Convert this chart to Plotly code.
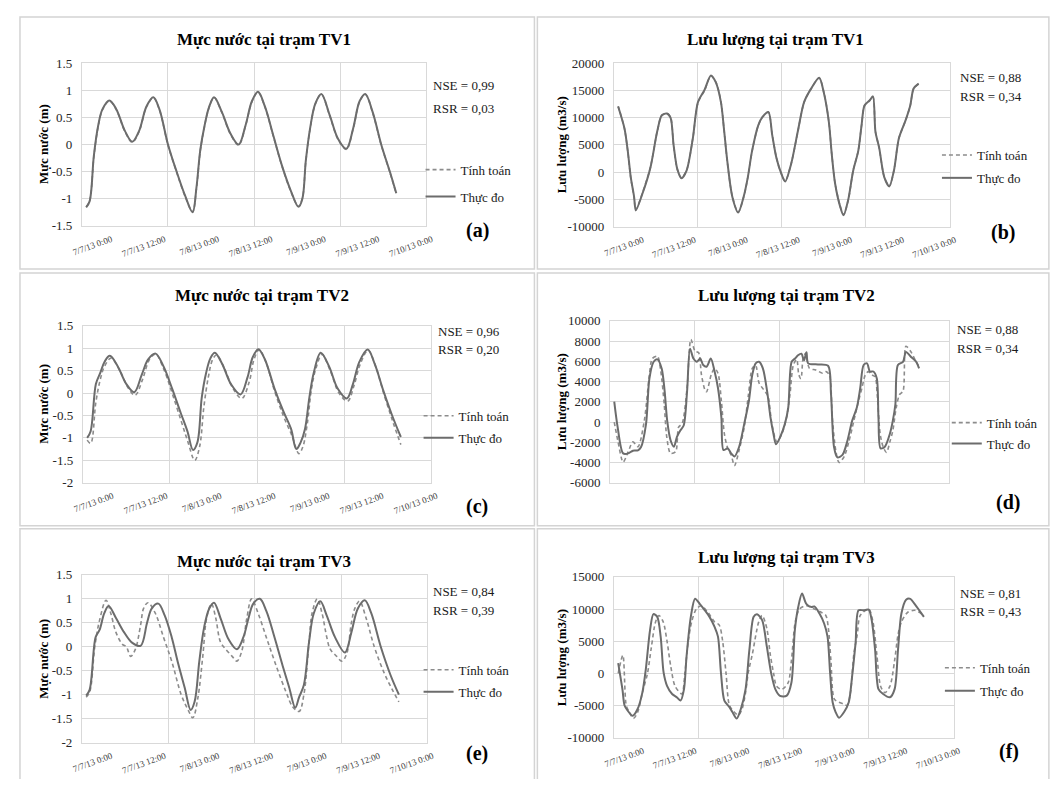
import plotly.graph_objects as go

# page has an 8px body margin, so the figure is sized to fit inside the 1058x787 window
PAGE_W, PAGE_H, OFF = 1058, 787, 8
FIG_W, FIG_H = PAGE_W - 2 * OFF, PAGE_H - 2 * OFF
FONT = "Liberation Serif, Times New Roman, serif"

# ---------------- shared axis data ----------------
X_TICK_TEXT = ["7/7/13 0:00", "7/7/13 12:00", "7/8/13 0:00", "7/8/13 12:00",
               "7/9/13 0:00", "7/9/13 12:00", "7/10/13 0:00"]
X_TICK_HOURS = [4.0, 16.4, 28.8, 41.2, 53.6, 66.0, 78.4]
X_RANGE = [-1, 79]
LEGEND_NAMES = ["Tính toán", "Thực đo"]

TITLES = ["Mực nước tại trạm TV1", "Lưu lượng tại trạm TV1",
          "Mực nước tại trạm TV2", "Lưu lượng tại trạm TV2",
          "Mực nước tại trạm TV3", "Lưu lượng tại trạm TV3"]
Y_TITLES = ["Mực nước (m)", "Lưu lượng (m3/s)"] * 3
NSE = ["0,99", "0,88", "0,96", "0,88", "0,84", "0,81"]
RSR = ["0,03", "0,34", "0,20", "0,34", "0,39", "0,43"]
LETTERS = ["(a)", "(b)", "(c)", "(d)", "(e)", "(f)"]

Y_TICKS_A = [-1.5, -1, -0.5, 0, 0.5, 1, 1.5]
Y_TICKS_B = [-10000, -5000, 0, 5000, 10000, 15000, 20000]
Y_TICKS_C = [-2, -1.5, -1, -0.5, 0, 0.5, 1, 1.5]
Y_TICKS_D = [-6000, -4000, -2000, 0, 2000, 4000, 6000, 8000, 10000]
Y_TICKS_E = [-2, -1.5, -1, -0.5, 0, 0.5, 1, 1.5]
Y_TICKS_F = [-10000, -5000, 0, 5000, 10000, 15000]

# ---------------- (a) TV1 water level ----------------
A_T = [0, 0.8, 1.8, 2.8, 3.8, 5.4, 7, 9, 10.7, 12.3, 14, 15.6, 17, 19, 21, 23, 24.7, 25.6, 26.5, 27.5,
       28.5, 29.7, 31.5, 33.5, 35.4, 37, 38.5, 39.9, 41.5, 43.5, 45.5, 47.5, 49.3, 50.2, 51, 52, 53.2,
       54.6, 56.5, 58.5, 60.4, 62, 63.5, 64.8, 66.5, 68.5, 70.5, 72]
A_OBS = [-1.16, -1.05, -0.2, 0.35, 0.65, 0.81, 0.65, 0.25, 0.05, 0.25, 0.7, 0.87, 0.65, 0.0, -0.5, -0.95,
         -1.25, -0.8, -0.1, 0.35, 0.68, 0.87, 0.6, 0.2, 0.0, 0.35, 0.8, 0.97, 0.7, 0.15, -0.4, -0.85,
         -1.15, -1.0, -0.3, 0.3, 0.75, 0.93, 0.55, 0.1, -0.08, 0.3, 0.8, 0.93, 0.6, 0.0, -0.5, -0.9]
A_SIM = [-1.15, -1.04, -0.22, 0.33, 0.64, 0.8, 0.64, 0.24, 0.04, 0.24, 0.69, 0.86, 0.64, -0.01, -0.51, -0.96,
         -1.24, -0.82, -0.12, 0.34, 0.67, 0.86, 0.59, 0.19, -0.01, 0.34, 0.79, 0.96, 0.69, 0.14, -0.41, -0.86,
         -1.14, -0.99, -0.31, 0.29, 0.74, 0.92, 0.54, 0.09, -0.09, 0.29, 0.79, 0.92, 0.59, -0.01, -0.51, -0.91]

# ---------------- (b) TV1 discharge ----------------
B_T = [0, 1.5, 2.3, 3, 3.8, 4.2, 5.8, 7.7, 9.3, 10.4, 11.6, 12.5, 13.2, 14.1, 15.1, 16.3, 17.8, 19, 20.6,
       22.1, 23.3, 24.5, 25.2, 26, 27.2, 28.6, 29.9, 30.9, 31.9, 33.4, 34.4, 35.8, 36.7, 37.7, 38.9, 39.8,
       41.2, 42.8, 44.3, 45.9, 47.9, 49, 50.2, 50.9, 51.7, 52.9, 53.7, 54.8, 56, 57.2, 58, 58.7, 59.9,
       60.7, 61.3, 62.2, 63.4, 64.6, 65.7, 66.9, 68.5, 69.6, 70.4, 71.6]
B_OBS = [12050, 8050, 3860, -900, -4500, -7000, -3900, 880, 7450, 10440, 10740, 9960, 5060, 570, -1100,
         300, 6250, 12800, 15100, 17700, 16400, 12800, 8050, 2070, -4500, -7380, -4500, -900, 3860, 8640,
         10140, 11030, 6850, 2670, -320, -1700, 1470, 7450, 12830, 15220, 17300, 14600, 9240, 3260, -2120,
         -6300, -7900, -5100, 270, 3860, 8640, 12230, 13130, 13900, 7450, 4460, -900, -2600, 270, 6250,
         9540, 12230, 15340, 16230]
B_SIM = [12100, 8000, 3800, -1000, -4600, -6900, -3800, 950, 7400, 10400, 10800, 10000, 5000, 500, -1050,
         350, 6200, 12700, 15000, 17650, 16500, 12900, 8000, 2000, -4400, -7300, -4600, -950, 3800, 8600,
         10100, 11000, 6900, 2700, -300, -1650, 1500, 7400, 12800, 15200, 17250, 14700, 9300, 3300, -2100,
         -6200, -7800, -5200, 300, 3900, 8600, 12200, 13100, 13850, 7500, 4400, -850, -2550, 300, 6200,
         9500, 12200, 15300, 16200]

# ---------------- (c) TV2 water level ----------------
C_OBS_T = [0, 0.8, 2, 3, 4, 5.2, 7, 9, 10.8, 12.5, 14, 15.7, 17.5, 19.5, 21.5, 23, 24.3, 25.3, 26.3, 27.3,
           28.3, 29.3, 31, 33, 35.2, 36.8, 38, 39.3, 40.8, 43, 45, 46.8, 48, 49, 50, 51, 52, 53.6, 55.5,
           57.5, 59.6, 61, 62.5, 64.4, 66, 68, 70, 72]
C_OBS = [-1.0, -0.85, 0.2, 0.45, 0.7, 0.83, 0.6, 0.2, 0.02, 0.4, 0.75, 0.88, 0.6, 0.1, -0.45, -0.85, -1.27,
         -1.1, -0.1, 0.45, 0.78, 0.9, 0.65, 0.2, -0.03, 0.35, 0.8, 0.98, 0.75, 0.1, -0.4, -0.8, -1.25, -1.1,
         -0.8, -0.1, 0.45, 0.9, 0.6, 0.1, -0.12, 0.2, 0.7, 0.97, 0.65, 0.05, -0.5, -0.98]
C_SIM_T = [0, 0.8, 2, 3, 4, 5.5, 7.5, 9.5, 11, 12.7, 14.3, 15.7, 17.5, 19.5, 21.5, 23, 24.7, 25.8, 26.8,
           27.8, 28.8, 29.7, 31.5, 33.5, 35.5, 37.2, 38.3, 39.5, 41, 43, 45, 47, 48.6, 49.5, 50.5, 51.5,
           52.5, 53.9, 55.8, 57.8, 59.8, 61.2, 62.7, 64.5, 66.2, 68.2, 70.2, 72]
C_SIM = [-1.05, -1.12, -0.2, 0.3, 0.6, 0.78, 0.5, 0.1, -0.05, 0.3, 0.75, 0.87, 0.55, 0.0, -0.6, -1.05,
         -1.5, -1.2, -0.3, 0.35, 0.75, 0.85, 0.55, 0.1, -0.12, 0.25, 0.75, 0.97, 0.7, 0.05, -0.5, -0.95,
         -1.35, -1.2, -0.7, 0.1, 0.55, 0.86, 0.5, 0.0, -0.18, 0.15, 0.65, 0.95, 0.6, -0.05, -0.65, -1.15]

# ---------------- (d) TV2 discharge ----------------
D_OBS_T = [0, 0.8, 2.1, 3.3, 4.4, 5.6, 6.3, 7.5, 8.3, 9.3, 10.2, 11.2, 11.9, 12.5, 13.3, 14.1, 14.8, 15.6,
           16.4, 17.2, 17.9, 18.7, 19.5, 20.3, 21, 21.8, 22.8, 23.7, 24.5, 25.3, 25.8, 26.8, 27.6, 28.4,
           29.5, 30.7, 31.8, 32.6, 33.4, 34.2, 35.1, 36.1, 36.9, 37.6, 38.2, 39.2, 40.3, 41.1, 41.9, 42.7,
           43.4, 44.2, 44.8, 45.4, 45.8, 48.1, 50.5, 51.2, 51.9, 52.7, 53.9, 55, 56.2, 57.3, 58.1, 58.9,
           59.7, 60.4, 61.2, 62, 62.4, 62.9, 63.9, 65.1, 65.8, 66.4, 67, 68.2, 68.9, 70.1, 71.3, 72]
D_OBS = [2020, -500, -3100, -3100, -2830, -2800, -2500, -200, 4300, 5960, 6200, 5300, 3050, 140, -1800,
         -2440, -1470, -830, -340, 3050, 7250, 6280, 5960, 6280, 5640, 5470, 6280, 5000, 3370, 460, -2770,
         -2600, -3100, -3400, -2440, -180, 2080, 4670, 5800, 5960, 5310, 3050, 460, -1150, -2200, -1470,
         -180, 1440, 5960, 6280, 6600, 6760, 6100, 6900, 5800, 5700, 5570, 2730, -2440, -3500, -3250,
         -1960, 140, 1440, 3370, 5640, 5800, 4990, 5000, 4340, 460, -2600, -2440, -1150, 140, 1760, 5640,
         5960, 6930, 6440, 5960, 5300]
D_SIM_T = [0, 0.9, 2.1, 3.3, 4.4, 5.6, 7.1, 8.3, 9, 10.2, 11, 11.8, 12.4, 13.3, 14.5, 15.2, 16, 17.2, 18.1,
           19.1, 19.9, 20.6, 21.4, 21.8, 22.9, 23.7, 24.5, 25.3, 26, 26.8, 27.6, 28.4, 29.5, 30.7, 31.7,
           32.6, 33.4, 34.2, 35.3, 36.3, 37.1, 37.9, 38.4, 39.6, 40.7, 41.5, 42.3, 43.1, 43.6, 44.1, 44.6,
           45.2, 46.1, 47.6, 49.2, 50, 50.8, 51.5, 52.3, 53.1, 54.3, 55.4, 56.6, 57.7, 58.5, 59.3, 60, 60.8,
           61.6, 62.1, 62.8, 63.5, 64.3, 65.1, 65.8, 66.6, 67.4, 68.2, 68.9, 70.1, 71.3, 72]
D_SIM = [0, -1960, -3960, -2930, -1960, -2440, 140, 4670, 6280, 6500, 4990, 1760, -1470, -3100, -2930,
         -500, -180, 3370, 8160, 7000, 6870, 4670, 3200, 2990, 4670, 5310, 4830, 2080, -1150, -2600, -3250,
         -4300, -2770, -500, 2730, 5310, 5600, 3860, 3200, 2560, 140, -1470, -1960, -1150, 460, 2730, 5640,
         6200, 4670, 4300, 6280, 6800, 5310, 5150, 4830, 4990, 4670, 460, -2770, -4000, -3410, -1960, 140,
         2080, 3370, 4670, 4990, 4670, 4500, 2730, -1150, -2440, -3000, -1960, -830, 1440, 2730, 3050,
         7500, 6930, 5960, 5470]

# ---------------- (e) TV3 water level ----------------
E_OBS_T = [0, 0.8, 2.2, 3.1, 4.2, 5.2, 6.9, 8.8, 10.7, 12.6, 14.1, 15.2, 16.7, 18.2, 19.8, 21.3, 22.8, 24.2,
           25.1, 26.2, 27.3, 28.5, 29.6, 31.1, 33, 34.9, 36.4, 37.6, 38.7, 40.2, 41.7, 43.6, 45.5, 47, 48.4,
           49.3, 50.4, 51.6, 52.7, 54.2, 55.7, 57.6, 59.9, 61.4, 62.9, 64.5, 66, 68.2, 70.5, 72.4]
E_OBS = [-1.02, -0.9, 0.2, 0.35, 0.7, 0.85, 0.6, 0.3, 0.08, 0.02, 0.5, 0.8, 0.9, 0.65, 0.2, -0.35, -0.85,
         -1.32, -1.15, -0.3, 0.4, 0.8, 0.92, 0.6, 0.15, -0.05, 0.2, 0.6, 0.9, 1.0, 0.75, 0.2, -0.4, -0.85,
         -1.27, -1.05, -0.8, 0.1, 0.7, 0.95, 0.65, 0.2, -0.12, 0.3, 0.8, 0.97, 0.7, 0.0, -0.6, -1.0]
E_SIM_T = [0, 0.8, 2, 3.1, 4.6, 5.7, 6.9, 8.4, 9.3, 10.3, 11.4, 12.6, 13.3, 14.3, 16, 17.9, 19.8, 22, 23.5,
           24.7, 25.8, 27, 27.9, 29, 30, 31.1, 32.3, 33.8, 34.9, 36, 37.2, 38.3, 39.8, 41.7, 44, 46.3, 47.8,
           49.3, 50.4, 51.6, 52.3, 53.5, 54.6, 55.7, 56.5, 58, 59.2, 60.3, 61.4, 62.2, 63.3, 64.8, 66.7, 69,
           70.9, 72.4]
E_SIM = [-1.05, -0.95, 0.0, 0.55, 0.97, 0.7, 0.3, 0.05, 0.0, -0.2, -0.05, 0.45, 0.8, 0.92, 0.7, 0.2, -0.3,
         -1.0, -1.3, -1.48, -1.1, -0.2, 0.6, 0.9, 0.6, 0.1, -0.05, -0.2, -0.3, -0.1, 0.6, 1.0, 0.7, 0.2,
         -0.4, -0.95, -1.25, -1.35, -1.0, 0.1, 0.7, 1.0, 0.7, 0.2, -0.05, -0.2, -0.3, -0.15, 0.5, 0.8, 0.95,
         0.6, 0.0, -0.55, -0.9, -1.15]

# ---------------- (f) TV3 discharge ----------------
F_OBS_T = [0, 1, 1.5, 2.2, 3.4, 4.6, 5.7, 6.5, 7.5, 8.3, 9.2, 10, 10.7, 11.5, 12.7, 13.8, 14.7, 15.5, 16.1,
           17.1, 18.1, 19.2, 20.4, 21.5, 22.7, 23.5, 24.2, 25, 26.2, 26.9, 27.9, 28.9, 30, 30.9, 31.9, 32.7,
           33.9, 35, 36, 37, 38.1, 39.7, 40.8, 41.6, 42.4, 43.3, 44.3, 45.5, 46.2, 47.4, 48.5, 49.3, 49.9,
           50.5, 51.2, 52, 53.2, 54.3, 55.1, 55.9, 56.6, 57.8, 59, 59.7, 60.5, 61.3, 62.4, 64, 65.1, 65.9,
           66.7, 67.8, 68.8, 69.8, 70.9, 72]
F_OBS = [1600, -2500, -5000, -5770, -6600, -5510, -2960, 610, 6730, 9200, 8780, 5710, 100, -1940, -3210,
         -3720, -4230, -2450, 2650, 8780, 11600, 10800, 9800, 8780, 7240, 5710, 100, -4230, -5260, -6020,
         -7040, -5510, -2450, 3670, 8780, 9200, 8270, 4180, 100, -2450, -3500, -3470, -1430, 6730, 10310,
         12400, 10800, 10310, 10400, 9290, 7750, 5710, 100, -4490, -6020, -6900, -6020, -4490, -410, 4690,
         9800, 9800, 9900, 8270, 3670, -2450, -3210, -3720, -2450, 3670, 9290, 11430, 11580, 10800, 9800,
         8780]
F_SIM_T = [0, 1.1, 1.9, 2.6, 3.6, 4.6, 5.7, 6.9, 7.8, 8.8, 9.6, 10.6, 11.5, 12.4, 13.4, 15, 15.7, 16.5,
           17.3, 18.4, 19.6, 21.1, 22.7, 23.8, 24.6, 25.4, 26.2, 27.3, 28.3, 29.2, 30, 30.6, 31.6, 33.1,
           33.9, 35, 35.8, 36.6, 37.3, 38.5, 40, 40.8, 41.7, 42.7, 44.3, 46.2, 47.8, 48.9, 49.5, 50.1, 50.9,
           52, 53.2, 53.9, 54.7, 55.5, 56.3, 57, 59, 60, 60.9, 61.8, 62.8, 64, 65.1, 65.9, 66.7, 68.2, 69.8,
           70.9, 72]
F_SIM = [0, 2800, -5000, -6000, -7000, -6000, -3000, 0, 4000, 8000, 9000, 8000, 5000, 1000, -2000, -3200,
         0, 5000, 8000, 10000, 10500, 9500, 8000, 7500, 5000, 0, -5000, -6000, -6500, -5500, -3000, 0, 3000,
         8000, 9000, 7000, 3000, 0, -2000, -2500, -1500, 2000, 8000, 10000, 10500, 10000, 9500, 9000, 7000,
         2000, -4000, -4500, -4800, -5000, -3000, 3000, 6000, 9000, 10000, 8000, 3000, -2000, -3000, -2000,
         2000, 6000, 8000, 9500, 9800, 9500, 9000]

SERIES = [
    ((A_T, A_SIM), (A_T, A_OBS), Y_TICKS_A),
    ((B_T, B_SIM), (B_T, B_OBS), Y_TICKS_B),
    ((C_SIM_T, C_SIM), (C_OBS_T, C_OBS), Y_TICKS_C),
    ((D_SIM_T, D_SIM), (D_OBS_T, D_OBS), Y_TICKS_D),
    ((E_SIM_T, E_SIM), (E_OBS_T, E_OBS), Y_TICKS_E),
    ((F_SIM_T, F_SIM), (F_OBS_T, F_OBS), Y_TICKS_F),
]

# ---------------- layout geometry (page pixels) ----------------
GEOM = [
    dict(plot=(72, 423, 57, 223), box=(9, 533, 10, 267), title=(258, 33), ytitle=(33, 140),
         stats=(428, 80, 103), legend=(417, 179.5, 7), letter=(475, 228), xlabels=True, smooth=1.0),
    dict(plot=(614, 956, 57, 224), box=(536, 1057, 10, 267), title=(779, 33), ytitle=(561, 140),
         stats=(964, 72, 91), legend=(943, 162.5, 3), letter=(1010, 230), xlabels=True, smooth=0.8),
    dict(plot=(73, 428, 325, 485), box=(9, 533, 271, 529), title=(256, 294), ytitle=(33, 405),
         stats=(433, 331, 349), legend=(415, 428, 2), letter=(475, 509), xlabels=True, smooth=1.0),
    dict(plot=(610, 955, 320, 485), box=(536, 1057, 271, 529), title=(790, 294), ytitle=(560, 402),
         stats=(961, 329, 348), legend=(953, 434.5, 1), letter=(1015, 505), xlabels=False, smooth=0.8),
    dict(plot=(72, 424, 579, 750), box=(9, 533, 532, 800), title=(258, 565), ytitle=(33, 665),
         stats=(428, 596, 615), legend=(415, 687, 2), letter=(474, 761), xlabels=True, smooth=1.0),
    dict(plot=(614, 960, 581, 745), box=(536, 1057, 532, 800), title=(790, 561), ytitle=(560, 663),
         stats=(964, 598, 616), legend=(946, 685.5, 3), letter=(1016, 759), xlabels=True, smooth=0.8),
]


def fx(px):
    return (px - OFF) / FIG_W


def fy(py):
    return 1 - (py - OFF) / FIG_H


SIM_STYLE = dict(color="#8c8c8c", width=1.6, dash="4px,3px")
OBS_STYLE = dict(color="#6c6c6c", width=2)
GRID = "#d9d9d9"

fig = go.Figure()
layout = dict(width=FIG_W, height=FIG_H, autosize=False,
              margin=dict(l=0, r=0, t=0, b=0),
              paper_bgcolor="white", plot_bgcolor="white",
              font=dict(family=FONT, color="#000000"),
              showlegend=True)
annotations = []
shapes = []

for i, (sim, obs, yticks) in enumerate(SERIES):
    n = i + 1
    g = GEOM[i]
    xa = "x" if n == 1 else f"x{n}"
    ya = "y" if n == 1 else f"y{n}"
    lg = "legend" if n == 1 else f"legend{n}"
    fig.add_trace(go.Scatter(x=sim[0], y=sim[1], mode="lines", name=LEGEND_NAMES[0],
                             line=dict(shape="spline", smoothing=g["smooth"], **SIM_STYLE),
                             xaxis=xa, yaxis=ya, legend=lg, legendgroup=f"s{n}",
                             hoverinfo="skip"))
    fig.add_trace(go.Scatter(x=obs[0], y=obs[1], mode="lines", name=LEGEND_NAMES[1],
                             line=dict(shape="spline", smoothing=g["smooth"], **OBS_STYLE),
                             xaxis=xa, yaxis=ya, legend=lg, legendgroup=f"o{n}",
                             hoverinfo="skip"))
    L, R, T, B = g["plot"]
    layout["xaxis" if n == 1 else f"xaxis{n}"] = dict(
        domain=[fx(L), fx(R)], anchor=ya, range=X_RANGE,
        tickmode="array", tickvals=X_TICK_HOURS, ticktext=X_TICK_TEXT,
        showticklabels=g["xlabels"], tickangle=-20, ticks="",
        ticklabelshift=8, ticklabelstandoff=4,
        tickfont=dict(family=FONT, size=9, color="#3c3c3c"),
        showgrid=False, zeroline=False,
        showline=True, mirror=True, linecolor=GRID, linewidth=1,
        minor=dict(tickmode="linear", tick0=X_RANGE[0], dtick=20, showgrid=True,
                   gridcolor=GRID, gridwidth=1, ticks=""),
    )
    layout["yaxis" if n == 1 else f"yaxis{n}"] = dict(
        domain=[fy(B), fy(T)], anchor=xa, range=[yticks[0], yticks[-1]],
        tickmode="array", tickvals=yticks, ticktext=[f"{v:g}" for v in yticks],
        ticks="", ticklabelstandoff=6,
        tickfont=dict(family=FONT, size=13, color="#262626"),
        showgrid=True, gridcolor=GRID, gridwidth=1, zeroline=False,
        showline=True, mirror=True, linecolor=GRID, linewidth=1,
    )
    lx, lyc, gap = g["legend"]
    layout[lg] = dict(x=fx(lx), y=fy(lyc), xanchor="left", yanchor="middle",
                      xref="paper", yref="paper", bgcolor="rgba(0,0,0,0)",
                      font=dict(family=FONT, size=13, color="#1a1a1a"),
                      traceorder="grouped", tracegroupgap=gap, itemwidth=30,
                      borderwidth=0)
    # panel frame
    bx0, bx1, by0, by1 = g["box"]
    shapes.append(dict(type="rect", xref="paper", yref="paper",
                       x0=fx(bx0), x1=fx(bx1), y0=fy(by1), y1=fy(by0),
                       line=dict(color="#d4d4d4", width=1.5), layer="below"))
    # title
    tx, ty = g["title"]
    annotations.append(dict(text=f"<b>{TITLES[i]}</b>", x=fx(tx), y=fy(ty), xref="paper", yref="paper",
                            xanchor="center", yanchor="middle", showarrow=False,
                            font=dict(family=FONT, size=17, color="#000000")))
    # y title
    yx, yy = g["ytitle"]
    annotations.append(dict(text=f"<b>{Y_TITLES[i]}</b>", x=fx(yx), y=fy(yy), xref="paper", yref="paper",
                            xanchor="center", yanchor="middle", textangle=-90, showarrow=False,
                            font=dict(family=FONT, size=13, color="#000000")))
    # statistics
    sx, sy1, sy2 = g["stats"]
    annotations.append(dict(text=f"NSE = {NSE[i]}", x=fx(sx), y=fy(sy1), xref="paper", yref="paper",
                            xanchor="left", yanchor="middle", showarrow=False,
                            font=dict(family=FONT, size=13, color="#1a1a1a")))
    annotations.append(dict(text=f"RSR = {RSR[i]}", x=fx(sx), y=fy(sy2), xref="paper", yref="paper",
                            xanchor="left", yanchor="middle", showarrow=False,
                            font=dict(family=FONT, size=13, color="#1a1a1a")))
    # panel letter
    px_, py_ = g["letter"]
    annotations.append(dict(text=f"<b>{LETTERS[i]}</b>", x=fx(px_), y=fy(py_), xref="paper", yref="paper",
                            xanchor="center", yanchor="middle", showarrow=False,
                            font=dict(family=FONT, size=20, color="#000000")))

layout["annotations"] = annotations
layout["shapes"] = shapes
fig.update_layout(**layout)
fig.write_html("out.html")
